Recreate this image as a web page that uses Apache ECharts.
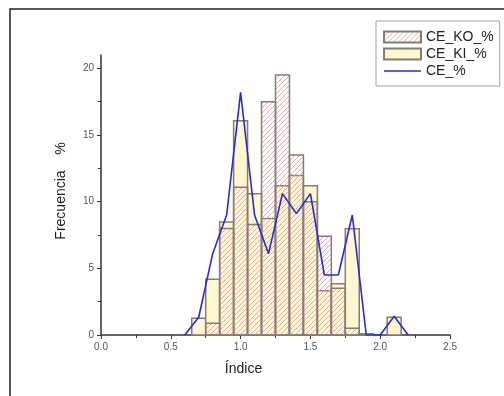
<!DOCTYPE html>
<html>
<head>
<meta charset="utf-8">
<script src="https://cdn.jsdelivr.net/npm/echarts@6/dist/echarts.min.js"></script>
<style>
  html, body { margin: 0; padding: 0; background: #fff; }
  #chart { width: 504px; height: 396px; }
</style>
</head>
<body>
<div id="chart"></div>
<script>
// --- datos ---
var binCenters = [0.7, 0.8, 0.9, 1.0, 1.1, 1.2, 1.3, 1.4, 1.5, 1.6, 1.7, 1.8, 1.9, 2.0, 2.1];
var ceKI = [1.26, 4.19, 8.48, 16.06, 10.59, 8.73, 11.2, 11.97, 11.2, 3.31, 3.84, 7.96, 0.08, 0, 1.33];
var ceKO = [0, 0.88, 7.98, 11.09, 8.28, 17.5, 19.5, 13.5, 10.0, 7.4, 3.5, 0.5, 0.08, 0, 0];
var lineX = [0.6, 0.7, 0.8, 0.9, 1.0, 1.1, 1.2, 1.3, 1.4, 1.5, 1.6, 1.7, 1.8, 1.9, 2.0, 2.1, 2.2];
var ceAll = [0, 1.33, 6.1, 9.0, 18.2, 9.0, 6.1, 10.6, 9.1, 10.6, 4.5, 4.5, 9.0, 0, 0, 1.4, 0];
var binWidth = 0.1;
var yTicks = [0, 5, 10, 15, 20];

// trama rayada rosa (////)
function makeHatch() {
    var c = document.createElement('canvas');
    c.width = 5; c.height = 5;
    var g = c.getContext('2d');
    g.strokeStyle = '#f0a6b2';
    g.lineWidth = 1;
    g.beginPath();
    g.moveTo(0, 5); g.lineTo(5, 0);
    g.moveTo(-1, 1); g.lineTo(1, -1);
    g.moveTo(4, 6); g.lineTo(6, 4);
    g.stroke();
    return { image: c, repeat: 'repeat' };
}
var hatch = makeHatch();
var barBorder = '#857d70';
var kiFill = '#fff6d2';

function pairs(xs, ys) {
    return xs.map(function (x, i) { return [x, ys[i]]; });
}

function barRender(fill) {
    return function (params, api) {
        var x = api.value(0), y = api.value(1);
        if (!y) return;
        var p0 = api.coord([x - binWidth / 2, y]);
        var p1 = api.coord([x + binWidth / 2, 0]);
        return {
            type: 'rect',
            shape: { x: p0[0], y: p0[1], width: p1[0] - p0[0], height: p1[1] - p0[1] },
            style: { fill: fill, stroke: barBorder, lineWidth: 1.5 }
        };
    };
}

var chart = echarts.init(document.getElementById('chart'), null, { renderer: 'canvas' });
var font = 'Liberation Sans, Arial, sans-serif';

chart.setOption({
    animation: false,
    backgroundColor: '#fff',
    textStyle: { fontFamily: font },
    graphic: [{
        type: 'rect',
        shape: { x: 10, y: 9, width: 600, height: 500 },
        style: { fill: 'none', stroke: '#222', lineWidth: 1.5 },
        silent: true
    }],
    legend: {
        orient: 'vertical',
        left: 376, top: 21,
        padding: [9, 6, 8, 7],
        itemGap: 3,
        itemWidth: 37, itemHeight: 11,
        borderColor: '#a0a0a0', borderWidth: 1,
        textStyle: { fontSize: 14, color: '#222', fontFamily: font },
        data: [
            { name: 'CE_KO_%', icon: 'rect' },
            { name: 'CE_KI_%', icon: 'rect' },
            { name: 'CE_%', icon: 'path://M0,0 L100,0 L100,4 L0,4 Z' }
        ]
    },
    grid: { left: 101, right: 54, top: 55, bottom: 61 },
    xAxis: {
        type: 'value', min: 0, max: 2.5, interval: 0.5,
        name: 'Índice', nameLocation: 'middle', nameGap: 27,
        nameTextStyle: { fontSize: 14, color: '#222', padding: [0, 64, 0, 0] },
        axisLine: { lineStyle: { color: '#333', width: 1.5 } },
        axisTick: { show: true, inside: false, length: 4, lineStyle: { color: '#333' } },
        minorTick: { show: true, splitNumber: 2, length: 3, lineStyle: { color: '#333' } },
        axisLabel: { fontSize: 10, color: '#555', margin: 7, formatter: function (v) { return v.toFixed(1); } },
        splitLine: { show: false }
    },
    yAxis: {
        type: 'value', min: 0, max: 21, interval: 5,
        name: 'Frecuencia    %', nameLocation: 'middle', nameGap: 33,
        nameTextStyle: { fontSize: 14, color: '#222', padding: [0, 0, 0, 8] },
        axisLine: { show: true, lineStyle: { color: '#333', width: 1.5 } },
        axisTick: { show: true, length: 4, customValues: yTicks, lineStyle: { color: '#333' } },
        minorTick: { show: true, splitNumber: 2, length: 3, lineStyle: { color: '#333' } },
        axisLabel: { fontSize: 10, color: '#555', margin: 7, customValues: yTicks },
        splitLine: { show: false }
    },
    series: [
        {
            name: 'CE_KI_%',
            type: 'custom',
            renderItem: barRender(kiFill),
            itemStyle: { color: kiFill, borderColor: barBorder, borderWidth: 1.5 },
            encode: { x: 0, y: 1 },
            data: pairs(binCenters, ceKI),
            z: 2
        },
        {
            name: 'CE_KO_%',
            type: 'custom',
            renderItem: barRender(hatch),
            itemStyle: { color: hatch, borderColor: barBorder, borderWidth: 1.5 },
            encode: { x: 0, y: 1 },
            data: pairs(binCenters, ceKO),
            z: 3
        },
        {
            name: 'CE_%',
            type: 'line',
            data: pairs(lineX, ceAll),
            symbol: 'none',
            color: '#2b2bcc',
            lineStyle: { color: '#2b2bcc', width: 1.6 },
            z: 4
        }
    ]
});
</script>
</body>
</html>
